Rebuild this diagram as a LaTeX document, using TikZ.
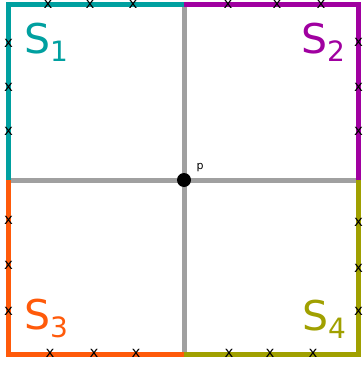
\documentclass[tikz,border=0pt]{standalone}
\usepackage{fontspec}
\setmainfont{DejaVu Sans}
\usetikzlibrary{positioning}
\definecolor{regteal}{HTML}{00A0A0}
\definecolor{regpurple}{HTML}{A000A0}
\definecolor{regorange}{HTML}{FF5A0A}
\definecolor{regolive}{HTML}{A0A000}
\definecolor{axisgray}{HTML}{A0A0A0}
\tikzset{
  axis/.style={draw=axisgray, line width=5pt},
  border/.style={line width=5pt, miter limit=10},
  cross/.style={inner sep=0pt, font=\fontsize{15}{15}\selectfont},
  region/.style={inner sep=0pt, anchor=base west, font=\fontsize{41}{41}\selectfont},
  center/.style={circle, fill=black, inner sep=0pt, minimum size=14pt}
}
\newcommand{\regsub}[1]{{\fontsize{28}{28}\selectfont\raisebox{-8pt}{#1}}}

\begin{document}
\begin{tikzpicture}[x=1pt,y=-1pt]
\useasboundingbox (0,0) rectangle (363,369);

% Corners and midpoints
\coordinate (tl) at (8.5,4.5);
\coordinate (tm) at (184,4.5);
\coordinate (tr) at (358.5,4.5);
\coordinate (ml) at (8.5,180);
\coordinate (mr) at (358.5,180);
\coordinate (bl) at (8.5,354);
\coordinate (bm) at (184,354);
\coordinate (br) at (358.5,354);

% Dividing lines
\draw[axis] (tm) -- (bm);
\draw[axis] (ml) -- (mr);

% Region borders
\draw[border, draw=regteal] (ml) -- (tl) -- (tm);
\draw[border, draw=regpurple] (tm) -- (tr) -- (mr);
\draw[border, draw=regorange] (ml) -- (bl) -- (bm);
\draw[border, draw=regolive] (bm) -- (br) -- (mr);

\node[center] (p) at (184,180) {};
\node[font=\fontsize{11}{11}\selectfont, above right=0pt and 4pt of p] (plabel) {p};

% Sample points
\foreach \x in {48,90,133,228,277,321}{\node[cross] at (\x,4.5) {x};}
\foreach \x in {50,94,136,229,270,313}{\node[cross] at (\x,353.5) {x};}
\foreach \y in {44,88,132,221,266,312}{\node[cross] at (8.5,\y-1) {x};}
\foreach \y in {43,88,132,223,269,312}{\node[cross] at (358.5,\y-1) {x};}

% Region labels
\node[region, text=regteal] (s1) at (24,53) {S\regsub{1}};
\node[region, text=regpurple] (s2) at (301,53) {S\regsub{2}};
\node[region, text=regorange] (s3) at (24,329) {S\regsub{3}};
\node[region, text=regolive] (s4) at (302,330) {S\regsub{4}};

\end{tikzpicture}
\end{document}
